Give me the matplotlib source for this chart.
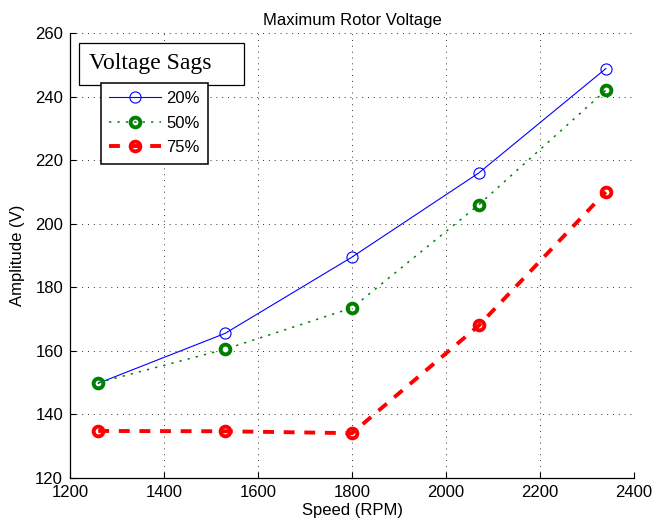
import matplotlib
matplotlib.use('Agg')
import matplotlib.pyplot as plt
from matplotlib.patches import Rectangle

plt.rcParams['font.family'] = ['Liberation Sans', 'DejaVu Sans']

speed = [1260, 1530, 1800, 2070, 2340]
sag20 = [149.8, 165.5, 189.5, 216, 248.8]
sag50 = [150, 160.5, 173.5, 206, 242]
sag75 = [134.8, 134.7, 134.1, 168, 210]

W, H = 655, 526
fig = plt.figure(figsize=(W / 100, H / 100), dpi=100)
ax = fig.add_axes([70 / W, 1 - 478 / H, 564 / W, 445 / H])

ax.plot(speed, sag20, color='blue', lw=0.8, marker='o', ms=8, mfc='none', mec='blue', mew=0.8, label='20%')
ax.plot(speed, sag50, color='green', lw=1.1, ls=(0, (1.5, 4)), marker='o', ms=7, mfc='none', mec='green', mew=2.8, label='50%')
ax.plot(speed, sag75, color='red', lw=2.8, ls=(0, (2.8, 2.5)), marker='o', ms=7, mfc='none', mec='red', mew=2.8, label='75%')

ax.set_xlim(1200, 2400)
ax.set_ylim(120, 260)
ax.set_xticks(range(1200, 2401, 200))
ax.set_yticks(range(120, 261, 20))
ax.grid(True, color='#333333', ls=(0, (1, 5)), lw=0.7)
ax.tick_params(direction='in', labelsize=12, length=4, pad=5)
ax.spines['top'].set_visible(False)
ax.spines['right'].set_visible(False)
for s in ['left', 'bottom']:
    ax.spines[s].set_linewidth(0.9)

ax.set_title('Maximum Rotor Voltage', fontsize=12, pad=6)
ax.set_xlabel('Speed (RPM)', fontsize=12, labelpad=2)
ax.set_ylabel('Amplitude (V)', fontsize=12, labelpad=7)

# "Voltage Sags" box behind the legend
ax.add_patch(Rectangle((79 / W, 1 - 85 / H), 165 / W, 42 / H, transform=fig.transFigure,
                       facecolor='white', edgecolor='black', lw=0.9, clip_on=False, zorder=4))
ax.text(89 / W, 1 - 69 / H, 'Voltage Sags', transform=fig.transFigure,
        family=['Liberation Serif', 'DejaVu Serif'], fontsize=17, va='baseline', ha='left', zorder=4.5)

leg = ax.legend(loc='upper left', bbox_to_anchor=(101 / W, 1 - 83 / H), bbox_transform=fig.transFigure,
                fontsize=12, handlelength=3.1, fancybox=False, framealpha=1, edgecolor='black',
                borderpad=0.5, labelspacing=0.57, handletextpad=0.3, borderaxespad=0)
leg.get_frame().set_linewidth(1.1)
leg.set_zorder(5)

fig.savefig('out.png', dpi=100)
